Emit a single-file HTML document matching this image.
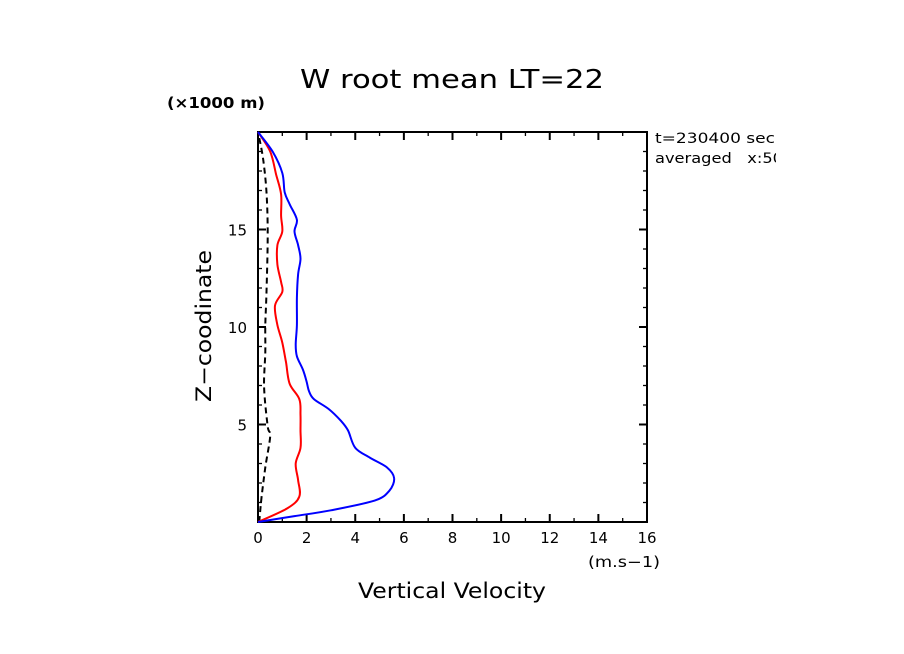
<!DOCTYPE html>
<html><head><meta charset="utf-8"><style>
body{margin:0;background:#fff;}
svg{display:block;font-family:"DejaVu Sans","Liberation Sans",sans-serif;}
</style></head><body>
<svg id="chart" width="904" height="654" viewBox="0 0 904 654">
<text x="300" y="88" font-size="26" textLength="304" lengthAdjust="spacingAndGlyphs">W root mean LT=22</text>
<text x="167" y="108" font-size="15" font-weight="bold" textLength="98" lengthAdjust="spacingAndGlyphs">(×1000 m)</text>
<text x="655" y="143" font-size="14" textLength="120" lengthAdjust="spacingAndGlyphs" xml:space="preserve">t=230400 sec</text>
<text x="655" y="163" font-size="14" textLength="128" lengthAdjust="spacingAndGlyphs" xml:space="preserve">averaged   x:50</text>
<rect x="776" y="140" width="128" height="30" fill="#fff"/>
<text x="211" y="326" font-size="21" text-anchor="middle" textLength="152" lengthAdjust="spacingAndGlyphs" transform="rotate(-90 211 326)">Z−coodinate</text>
<text x="358" y="598" font-size="21" textLength="188" lengthAdjust="spacingAndGlyphs">Vertical Velocity</text>
<text x="588" y="567" font-size="15" textLength="72" lengthAdjust="spacingAndGlyphs">(m.s−1)</text>
<g id="axes"></g>
<g id="series"></g>
</svg>
<script>
const xTicks=[0,2,4,6,8,10,12,14,16];
const yTicks=[5,10,15];
const blueZ=[0,0.3,0.6,1.1,1.6,2.25,2.8,3.3,3.8,4.7,5.2,5.8,6.3,6.7,7.2,7.8,8.5,9.1,10.1,11.5,12.7,13.5,14.2,14.9,15.5,16.3,16.9,17.9,19,20];
const blueV=[0,1.5,3.0,4.8,5.4,5.6,5.3,4.6,4.0,3.7,3.4,2.9,2.3,2.1,2.0,1.85,1.6,1.55,1.6,1.6,1.65,1.75,1.65,1.5,1.6,1.3,1.1,1.0,0.6,0];
const redZ=[0,0.7,1.3,2.15,3.0,3.8,4.7,5.5,6.3,7.1,8.2,9.2,10.1,11.1,11.8,12.3,13.2,14.2,14.9,15.7,16.8,17.8,19,20];
const redV=[0,1.2,1.7,1.65,1.55,1.75,1.75,1.75,1.7,1.3,1.15,1.0,0.8,0.7,1.0,0.95,0.8,0.8,1.0,0.95,0.95,0.75,0.5,0];
const blackZ=[0,1.3,2.8,4.4,4.9,6.9,8.7,10.1,11.8,14.7,16.9,18.7,20];
const blackV=[0.05,0.15,0.3,0.5,0.4,0.25,0.3,0.3,0.35,0.4,0.35,0.2,0];
const X0=258,X1=647,Y0=522,Y1=132;
const sx=v=>X0+(v-0)/(16-0)*(X1-X0);
const sy=z=>Y0-(z-0)/(20-0)*(Y0-Y1);
const NS="http://www.w3.org/2000/svg";
const axes=document.getElementById('axes');
function mk(tag,attrs,parent){const e=document.createElementNS(NS,tag);for(const k in attrs)e.setAttribute(k,attrs[k]);parent.appendChild(e);return e;}
const frame=mk('rect',{x:X0,y:Y1,width:X1-X0,height:Y0-Y1,fill:'none',stroke:'#000','stroke-width':2},axes);


for(let v=0;v<=16;v++){const major=v%2===0,L=major?8:4,x=sx(v);
 mk('line',{x1:x,y1:Y0,x2:x,y2:Y0-L,stroke:'#000','stroke-width':major?2:1.3},axes);
 mk('line',{x1:x,y1:Y1,x2:x,y2:Y1+L,stroke:'#000','stroke-width':major?2:1.3},axes);}
for(let z=0;z<=20;z++){const major=z%5===0,L=major?8:4,y=sy(z);
 mk('line',{x1:X0,y1:y,x2:X0+L,y2:y,stroke:'#000','stroke-width':major?2:1.3},axes);
 mk('line',{x1:X1,y1:y,x2:X1-L,y2:y,stroke:'#000','stroke-width':major?2:1.3},axes);}
xTicks.forEach(v=>{const t=mk('text',{x:sx(v),y:543,'font-size':15,'text-anchor':'middle'},axes);t.textContent=v;
 
 });
yTicks.forEach(z=>{const t=mk('text',{x:247,y:sy(z)+6,'font-size':15,'text-anchor':'end'},axes);t.textContent=z;
 
 });
const ser=document.getElementById('series');
function smooth(P){let d='M'+P[0][0].toFixed(1)+' '+P[0][1].toFixed(1);
 for(let i=0;i<P.length-1;i++){const p0=P[Math.max(i-1,0)],p1=P[i],p2=P[i+1],p3=P[Math.min(i+2,P.length-1)];
  const c1=[p1[0]+(p2[0]-p0[0])/6,p1[1]+(p2[1]-p0[1])/6],c2=[p2[0]-(p3[0]-p1[0])/6,p2[1]-(p3[1]-p1[1])/6];
  d+=' C'+c1[0].toFixed(1)+' '+c1[1].toFixed(1)+' '+c2[0].toFixed(1)+' '+c2[1].toFixed(1)+' '+p2[0].toFixed(1)+' '+p2[1].toFixed(1);}
 return d;}
function line(Z,V,color,dash,name){
 const P=Z.map((z,i)=>[sx(V[i]),sy(z)]);
 const p=mk('path',{d:smooth(P),fill:'none',stroke:color,'stroke-width':2,'stroke-linejoin':'round'},ser);
 if(dash)p.setAttribute('stroke-dasharray','6 4');
 
 }
line(blackZ,blackV,'#000',true,'black-dashed-line');
line(redZ,redV,'#ff0000',false,'red-line');
line(blueZ,blueV,'#0000ff',false,'blue-line');
</script>
</body></html>
